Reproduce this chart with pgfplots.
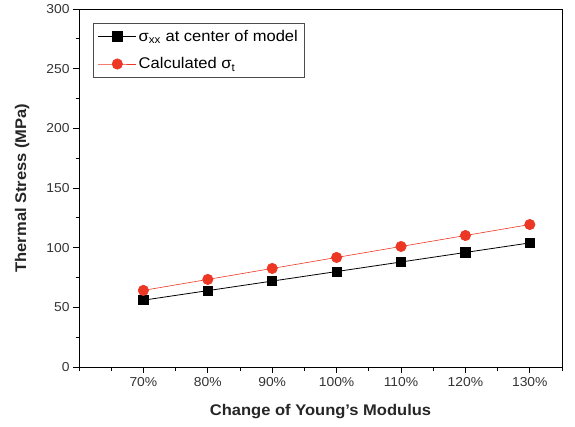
\documentclass[border=0pt]{standalone}
\usepackage{fontspec}
\setmainfont[FakeStretch=1.07]{Liberation Sans}
\usepackage{pgfplots}
\pgfplotsset{compat=1.18}
\definecolor{myred}{RGB}{235,55,35}
\begin{document}
\begin{tikzpicture}
\begin{axis}[
 scale only axis, width=483bp, height=358bp,
 xmin=60, xmax=135, ymin=0, ymax=300,
 xtick={70,80,...,130}, xticklabels={70\%,80\%,90\%,100\%,110\%,120\%,130\%},
 minor xtick={60,65,75,85,95,105,115,125,135},
 ytick={0,50,...,300}, minor ytick={25,75,...,275},
 tick align=outside, xtick pos=bottom, ytick pos=left,
 major tick length=6bp, minor tick length=3.5bp,
 tick style={black, line width=0.8bp},
 axis line style={line width=1bp},
 ticklabel style={font=\fontsize{13}{15}\selectfont, text=black!80},
 xticklabel style={yshift=-1bp},
 /pgf/number format/assume math mode=true,
 xlabel={Change of Young's Modulus}, ylabel={Thermal Stress (MPa)},
 label style={font=\fontsize{15.5}{18}\selectfont\bfseries, text=black!85},
 xlabel style={at={(axis description cs:0.5,0)}, anchor=base, yshift=-48bp},
 ylabel style={at={(axis description cs:-0.1097,0.5)}, anchor=base, rotate=0},
 legend style={at={(0.028,0.962)}, anchor=north west, draw=black!70, line width=0.8bp,
   font=\fontsize{15.5}{17}\selectfont, row sep=11bp, inner xsep=5bp, inner ysep=5bp},
 legend cell align=left,
 legend image code/.code={\draw[mark repeat=2,mark phase=2] plot coordinates {(0bp,0bp)(19bp,0bp)(38bp,0bp)};},
]
\addplot[black, line width=0.8bp, mark=square*, mark size=4.6bp, mark options={solid}] coordinates {
 (70,56) (80,64) (90,72) (100,80) (110,88) (120,96) (130,104)};
\addlegendentry{σ\textsubscript{xx} at center of model}
\addplot[myred, line width=0.6bp, mark=*, mark size=5.2bp] coordinates {
 (70,64.2) (80,73.4) (90,82.6) (100,91.8) (110,101) (120,110.2) (130,119.4)};
\addlegendentry{Calculated σ\textsubscript{t}}
\end{axis}
\pgfresetboundingbox
\path[use as bounding box] ([xshift=-79bp,yshift=-59bp]current axis.south west) rectangle ([xshift=13bp,yshift=9bp]current axis.north east);
\end{tikzpicture}
\end{document}
